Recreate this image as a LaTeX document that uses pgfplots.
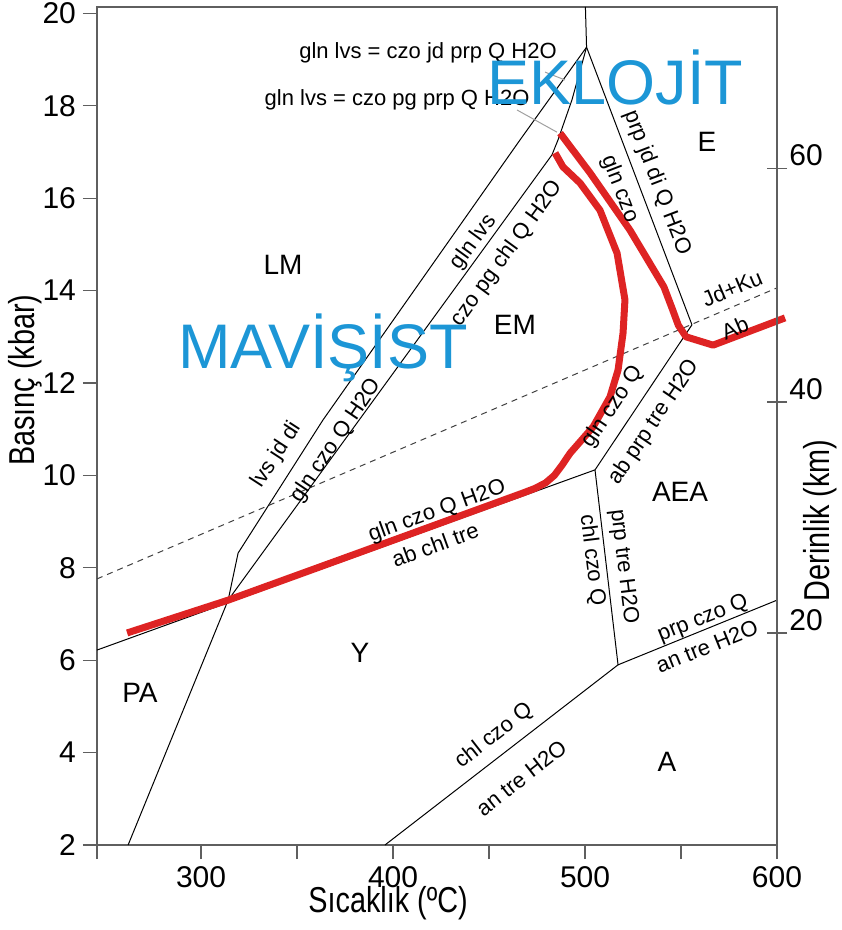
\documentclass[border=0pt]{standalone}
\usepackage{pgfplots}
\pgfplotsset{compat=1.18}
\usepackage{fontspec}
\setmainfont{Liberation Sans}
\definecolor{redline}{RGB}{222,35,35}
\definecolor{blueT}{RGB}{28,150,214}
\definecolor{frame}{RGB}{95,95,95}
\definecolor{leader}{RGB}{160,160,160}
\begin{document}
\begin{tikzpicture}[
  lab/.style={font=\fontsize{11}{11}\selectfont, inner sep=0pt},
  reg/.style={font=\fontsize{14}{14}\selectfont, inner sep=0pt},
  big/.style={font=\fontsize{31.5}{31.5}\selectfont, text=blueT, inner sep=0pt},
  axl/.style={font=\fontsize{18}{18}\selectfont, inner sep=0pt}
]
\begin{axis}[
  name=main,
  scale only axis,
  width=340pt, height=419pt,
  xmin=245.8, xmax=600, ymin=2, ymax=20.14,
  clip=false,
  axis line style={frame, line width=0.7pt},
  xtick={245.8,300,350,400,450,500,550,600},
  xticklabels={,300,,400,,500,,600},
  ytick={2,4,...,20},
  xtick pos=lower, ytick pos=left,
  tick align=outside,
  major tick length=7pt,
  tick style={frame, line width=0.6pt},
  ticklabel style={font=\fontsize{15}{15}\selectfont},
  /pgf/number format/assume math mode=true,
]
% thin reaction lines
\addplot[black, line width=0.5pt] coordinates {(262.0,2) (314.1,7.30) (319.3,8.32) (363.5,11.20) (466.1,17.26) (500.8,19.27)};
\addplot[black, line width=0.5pt] coordinates {(500.8,19.27) (500.2,20.14)};
\addplot[black, line width=0.5pt] coordinates {(314.1,7.30) (482.8,16.94) (485.9,17.26) (493.2,18.13) (500.8,19.27)};
\addplot[black, line width=0.5pt] coordinates {(500.8,19.27) (555.7,13.26)};
\addplot[black, line width=0.5pt] coordinates {(555.7,13.26) (505.2,10.12)};
\addplot[black, line width=0.5pt] coordinates {(245.8,6.22) (505.2,10.12)};
\addplot[black, line width=0.5pt] coordinates {(505.2,10.12) (517.2,5.90)};
\addplot[black, line width=0.5pt] coordinates {(517.2,5.90) (600,7.30)};
\addplot[black, line width=0.5pt] coordinates {(517.2,5.90) (395.8,2)};
\addplot[black!75, line width=0.5pt, dash pattern=on 3pt off 2.5pt] coordinates {(245.8,7.76) (600,14.06)};
% leader lines
\addplot[leader, line width=0.5pt] coordinates {(464.6,17.91) (485.4,17.43)};
\addplot[leader, line width=0.5pt] coordinates {(479.2,18.73) (489.6,18.56)};
% red paths
\addplot[redline, line width=3.5pt, line join=round, line cap=butt] coordinates {(261.5,6.59) (314.1,7.30) (381.8,8.32) (467.7,9.62) (474.0,9.72) (479.5,9.84) (484.0,10.00) (488.0,10.22) (492.2,10.48) (504.2,11.05) (513.0,11.70) (517.2,12.28) (519.8,13.08) (520.8,13.80) (516.7,14.81) (507.8,15.74) (497.4,16.33) (488.5,16.68) (484.4,16.98)};
\addplot[redline, line width=3.5pt, line join=round] coordinates {(487.0,17.41) (502.6,16.55) (523.4,15.31) (541.1,14.08) (545.5,13.60) (548.6,13.25) (552.6,13.00) (566.7,12.82) (604.2,13.41)};
% labels
\node[lab] at (418.2,19.14) {gln lvs = czo jd prp Q H2O};
\node[lab] at (402.1,18.13) {gln lvs = czo pg prp Q H2O};
\node[reg] at (563.5,17.22) {E};
\node[reg] at (342.7,14.55) {LM};
\node[reg] at (463.5,13.26) {EM};
\node[reg] at (549.5,9.64) {AEA};
\node[reg] at (382.8,6.16) {Y};
\node[reg] at (268.2,5.29) {PA};
\node[reg] at (542.7,3.80) {A};
\node[lab, rotate=23] at (576.6,14.05) {Jd+Ku};
\node[lab, rotate=23] at (578.1,13.20) {Ab};
\node[lab, rotate=-69] at (537.5,16.33) {prp jd di Q H2O};
\node[lab, rotate=-69] at (518.0,16.20) {gln czo};
\node[lab, rotate=54] at (442.0,15.05) {gln lvs};
\node[lab, rotate=54] at (459.5,14.80) {czo pg chl Q H2O};
\node[lab, rotate=57] at (339.5,10.45) {lvs jd di};
\node[lab, rotate=56] at (370.5,10.75) {gln czo Q H2O};
\node[lab, rotate=20] at (423.0,9.22) {gln czo Q H2O};
\node[lab, rotate=20] at (421.9,8.50) {ab chl tre};
\node[lab, rotate=56] at (514.5,11.48) {gln czo Q};
\node[lab, rotate=56] at (536.0,11.15) {ab prp tre H2O};
\node[lab, rotate=-83] at (503.6,8.17) {chl czo Q};
\node[lab, rotate=-83] at (520.0,8.02) {prp tre H2O};
\node[lab, rotate=22] at (561.5,6.90) {prp czo Q};
\node[lab, rotate=22] at (563.5,6.30) {an tre H2O};
\node[lab, rotate=38] at (452.5,4.36) {chl czo Q};
\node[lab, rotate=38] at (466.8,3.45) {an tre H2O};
\node[big, anchor=base west] at (449.0,18.02) {EKLOJİT};
\node[big, anchor=base west] at (288.0,12.32) {MAVİŞİST};
% axis titles
\node[axl, rotate=90] at (208.3,12.06) {\scalebox{0.8}[1]{Basınç (kbar)}};
\node[axl, rotate=90] at (622.4,9.03) {\scalebox{0.8}[1]{Derinlik (km)}};
\node[axl] at (397.4,0.745) {\scalebox{0.8}[1]{Sıcaklık (ºC)}};
\end{axis}
\begin{axis}[
  scale only axis,
  width=340pt, height=419pt,
  xmin=245.8, xmax=600, ymin=2, ymax=20.14,
  axis x line=none, axis y line*=right,
  axis line style={frame, line width=0.7pt},
  ytick={6.59,11.59,16.65}, yticklabels={20,40,60},
  tick align=center, major tick length=10pt,
  tick style={frame, line width=0.6pt},
  yticklabel style={font=\fontsize{15}{15}\selectfont, anchor=south west, inner sep=1pt},
]
\addplot[draw=none] coordinates {(300,5)};
\end{axis}
\path (main.south west) ++(-48.5pt,-42.5pt) coordinate (A);
\path (main.north east) ++(32pt,3.5pt) coordinate (B);
\pgfresetboundingbox
\path (A) rectangle (B);
\end{tikzpicture}
\end{document}
